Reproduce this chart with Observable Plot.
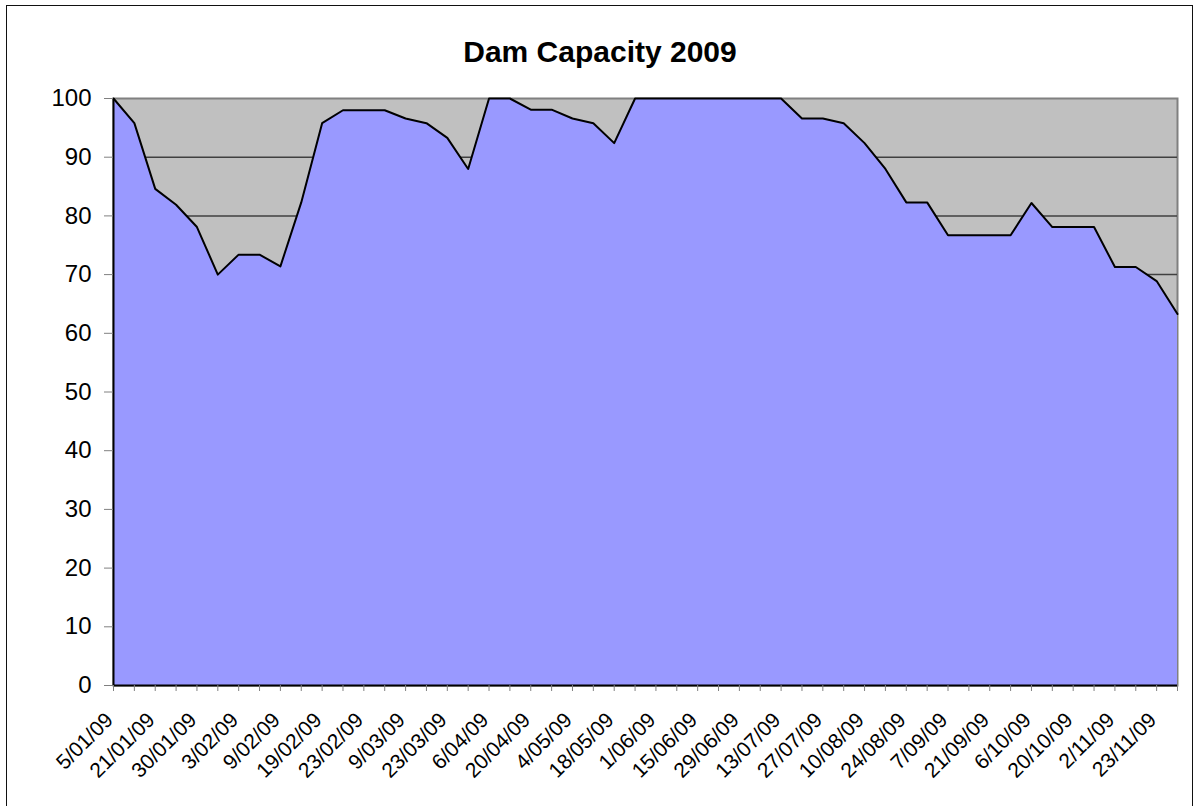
<!DOCTYPE html>
<html>
<head>
<meta charset="utf-8">
<script src="https://cdn.jsdelivr.net/npm/d3@7"></script>
<script src="https://cdn.jsdelivr.net/npm/@observablehq/plot@0.6"></script>
<style>
  html, body { margin: 0; padding: 0; background: #fff; overflow: hidden; }
  #wrap { position: relative; width: 1195px; height: 806px; font-family: "Liberation Sans", Arial, sans-serif; }
  #border { position: absolute; left: 6px; top: 5px; width: 1187px; height: 820px; border: 1.5px solid #111; box-sizing: border-box; pointer-events: none; }
  #title { position: absolute; left: 0; top: 35px; width: 1200px; text-align: center; font-weight: bold; font-size: 30px; color: #000; }
  #chart { position: absolute; left: 0; top: 0; }
</style>
</head>
<body>
<div id="wrap">
  <div id="chart"></div>
  <div id="title">Dam Capacity 2009</div>
  <div id="border"></div>
</div>
<script>
// All observation dates (only every other one is labelled on the axis)
const dates = [
  "5/01/09", "12/01/09", "21/01/09", "26/01/09", "30/01/09", "1/02/09",
  "3/02/09", "6/02/09", "9/02/09", "16/02/09", "19/02/09", "21/02/09",
  "23/02/09", "2/03/09", "9/03/09", "16/03/09", "23/03/09", "30/03/09",
  "6/04/09", "13/04/09", "20/04/09", "27/04/09", "4/05/09", "11/05/09",
  "18/05/09", "25/05/09", "1/06/09", "8/06/09", "15/06/09", "22/06/09",
  "29/06/09", "6/07/09", "13/07/09", "20/07/09", "27/07/09", "3/08/09",
  "10/08/09", "17/08/09", "24/08/09", "31/08/09", "7/09/09", "14/09/09",
  "21/09/09", "28/09/09", "6/10/09", "13/10/09", "20/10/09", "26/10/09",
  "2/11/09", "16/11/09", "23/11/09", "30/11/09"
];
// Capacity (%)
const capacity = [
  100, 95.8, 84.6, 81.9, 78.1, 70.0, 73.4, 73.4, 71.4, 82.3,
  95.8, 98.0, 98.0, 98.0, 96.6, 95.8, 93.3, 88.0, 100, 100,
  98.1, 98.1, 96.6, 95.8, 92.4, 100, 100, 100, 100, 100,
  100, 100, 100, 96.6, 96.6, 95.8, 92.4, 88.0, 82.3, 82.3,
  76.7, 76.7, 76.7, 76.7, 82.2, 78.1, 78.1, 78.1, 71.3, 71.3,
  68.9, 63.3
];
// Tick labels shown on the x axis
const xLabels = [
  "5/01/09", "21/01/09", "30/01/09", "3/02/09", "9/02/09", "19/02/09",
  "23/02/09", "9/03/09", "23/03/09", "6/04/09", "20/04/09", "4/05/09",
  "18/05/09", "1/06/09", "15/06/09", "29/06/09", "13/07/09", "27/07/09",
  "10/08/09", "24/08/09", "7/09/09", "21/09/09", "6/10/09", "20/10/09",
  "2/11/09", "23/11/09"
];
const yTicks = [0, 10, 20, 30, 40, 50, 60, 70, 80, 90, 100];
const gridLines = [10, 20, 30, 40, 50, 60, 70, 80, 90];

const data = dates.map((d, i) => ({date: d, value: capacity[i]}));

const chart = Plot.plot({
  width: 1195,
  height: 806,
  marginTop: 98,
  marginBottom: 121,
  marginLeft: 113,
  marginRight: 18,
  style: {fontFamily: "'Liberation Sans', Arial, sans-serif", background: "transparent", color: "black"},
  x: {type: "point", domain: dates, padding: 0},
  y: {domain: [0, 100]},
  marks: [
    Plot.frame({fill: "#c0c0c0", stroke: "#808080", strokeWidth: 2}),
    Plot.ruleY(gridLines, {stroke: "#404040", strokeWidth: 1.5}),
    Plot.areaY(data, {x: "date", y: "value", fill: "#9999ff"}),
    Plot.lineY(data, {x: "date", y: "value", stroke: "black", strokeWidth: 2}),
    Plot.ruleY([0], {stroke: "black", strokeWidth: 2}),
    Plot.ruleX([dates[0]], {stroke: "black", strokeWidth: 2}),
    Plot.axisY({ticks: yTicks, tickSize: 9, tickPadding: 13, stroke: "#808080", fill: "black", fontSize: 24, label: null}),
    Plot.axisX({ticks: dates, tickSize: 6, stroke: "#808080", fill: "none", label: null}),
    Plot.axisX({ticks: xLabels, tickSize: 0, tickPadding: 31, tickRotate: -45, fontSize: 21, fill: "black", dx: -4, label: null})
  ]
});
document.getElementById("chart").appendChild(chart);
</script>
</body>
</html>
